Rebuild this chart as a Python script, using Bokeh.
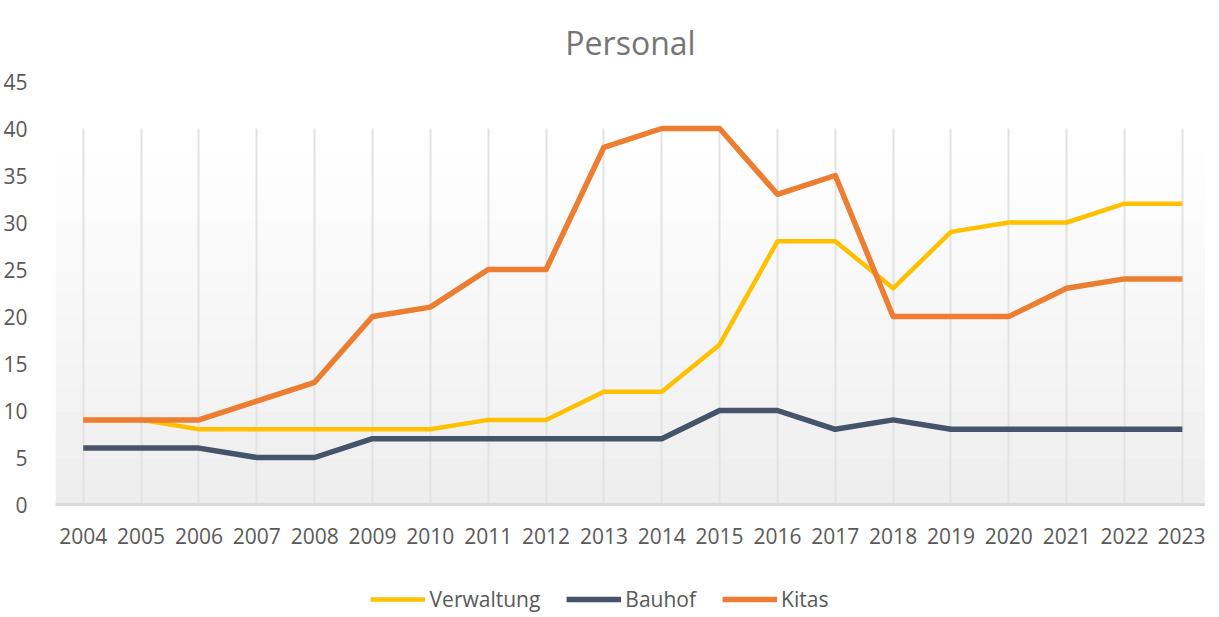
from bokeh.plotting import figure
from bokeh.layouts import column
from bokeh.models import Range1d, FixedTicker, Legend, LegendItem, BoxAnnotation
from bokeh.embed import file_html
from bokeh.resources import INLINE

years = list(range(2004, 2024))
verwaltung = [9, 9, 8, 8, 8, 8, 8, 9, 9, 12, 12, 17, 28, 28, 23, 29, 30, 30, 32, 32]
bauhof = [6, 6, 6, 5, 5, 7, 7, 7, 7, 7, 7, 10, 10, 8, 9, 8, 8, 8, 8, 8]
kitas = [9, 9, 9, 11, 13, 20, 21, 25, 25, 38, 40, 40, 33, 35, 20, 20, 20, 23, 24, 24]
y_ticks = list(range(0, 50, 5))
series_names = ["Verwaltung", "Bauhof", "Kitas"]
series_colors = ["#FFC000", "#44546A", "#ED7D31"]
series_widths = [4.5, 5.5, 5.5]
series_values = [verwaltung, bauhof, kitas]

FONT = "Open Sans"
TXT = "#595959"

p = figure(frame_width=1150, frame_height=423, output_backend="svg", toolbar_location=None,
           x_range=Range1d(2003.52, 2023.4), y_range=Range1d(0, 45),
           title="Personal", min_border_left=49, min_border_right=0,
           min_border_top=0, min_border_bottom=52)
p.outline_line_color = None
p.background_fill_color = "white"
p.border_fill_color = "white"

p.title.align = "center"
p.title.text_font = FONT
p.title.text_font_size = "32px"
p.title.text_font_style = "normal"
p.title.text_color = "#757575"
p.title.standoff = 36

# gradient background (white at top -> light grey at bottom)
n = 16
for i in range(n):
    t = i / (n - 1)
    g = int(round(255 - (255 - 238) * t))
    col = "#%02x%02x%02x" % (g, g, g)
    p.add_layout(BoxAnnotation(bottom=40 - 40 * (i + 1) / n, top=40 - 40 * i / n,
                               fill_color=col, fill_alpha=1.0, line_color=None,
                               level="image"))

# axes
p.xaxis.ticker = FixedTicker(ticks=years)
p.yaxis.ticker = FixedTicker(ticks=y_ticks)
for ax in (p.xaxis[0], p.yaxis[0]):
    ax.major_label_text_font = FONT
    ax.major_label_text_font_size = "21px"
    ax.major_label_text_color = TXT
    ax.major_tick_line_color = None
    ax.minor_tick_line_color = None
p.xaxis.axis_line_color = "#d9d9d9"
p.xaxis.axis_line_width = 3
p.xaxis.major_label_standoff = 17
p.yaxis.axis_line_color = None
p.yaxis.major_label_standoff = 22

p.ygrid.grid_line_color = None
p.xgrid.grid_line_color = "#e2e2e2"
p.xgrid.grid_line_width = 2

# mask gridlines above 40
p.add_layout(BoxAnnotation(bottom=40, fill_color="white", fill_alpha=1.0,
                           line_color=None, level="underlay"))

for ys, c, w in zip(series_values, series_colors, series_widths):
    p.line(years, ys, line_color=c, line_width=w, line_join="round")

# legend strip as a second small figure (series drawn out of view; only legend shows)
pl = figure(frame_width=1150, frame_height=30, output_backend="svg", toolbar_location=None,
            min_border_left=49, min_border_right=0, min_border_top=28, min_border_bottom=0,
            x_range=Range1d(0, 1), y_range=Range1d(0, 1))
pl.axis.visible = False
pl.grid.visible = False
pl.outline_line_color = None
items = []
for name, ys, c, w in zip(series_names, series_values, series_colors, series_widths):
    r = pl.line(years, ys, line_color=c, line_width=w)
    items.append(LegendItem(label=name, renderers=[r]))
legend = Legend(items=items, orientation="horizontal", location="center")
legend.label_text_font = FONT
legend.label_text_font_size = "21px"
legend.label_text_color = TXT
legend.glyph_width = 55
legend.label_standoff = 4
legend.spacing = 26
legend.padding = 0
legend.margin = 0
legend.border_line_color = None
legend.background_fill_alpha = 0
pl.add_layout(legend, "center")

layout = column(p, pl, spacing=0)
open("out.html", "w").write(file_html(layout, INLINE))
